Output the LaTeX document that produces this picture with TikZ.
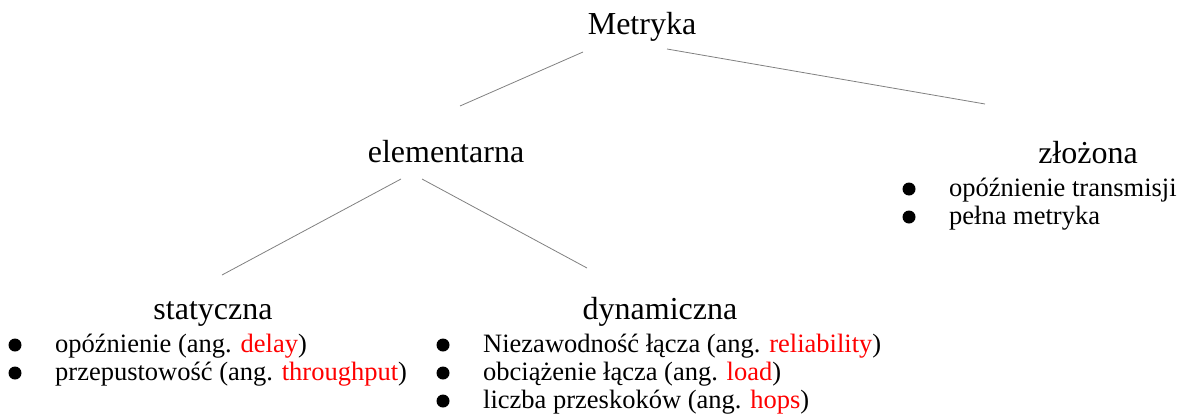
\documentclass[tikz,border=0pt]{standalone}
\usepackage{fontspec}
\setmainfont{Liberation Serif}
\usetikzlibrary{calc}

\begin{document}
\begin{tikzpicture}[x=1pt,y=-1pt,
  head/.style={font=\fontsize{32}{38}\selectfont, inner sep=0, anchor=base},
  item/.style={font=\fontsize{26.5}{32}\selectfont, inner sep=0, anchor=base west},
  dot/.style={circle, fill=black, inner sep=0, minimum size=13pt},
  link/.style={draw=gray, line width=0.8pt}]
\useasboundingbox (0,0) rectangle (1181,418);

% levels
\node[head] (met) at (642,34) {Metryka};
\node[head] (ele) at (446,162) {elementarna};
\node[head] (zlo) at (1088,163) {złożona};
\node[head] (sta) at (213,319) {statyczna};
\node[head] (dyn) at (660,319) {dynamiczna};

% lists
\node[item] (zl1) at (949,196) {opóźnienie transmisji};
\node[item] (zl2) at (949,224) {pełna metryka};
\node[item] (st1) at (55,352) {opóźnienie (ang. \textcolor{red}{delay})};
\node[item] (st2) at (55,380) {przepustowość (ang. \textcolor{red}{throughput})};
\node[item] (dy1) at (483,352) {Niezawodność łącza (ang. \textcolor{red}{reliability})};
\node[item] (dy2) at (483,380) {obciążenie łącza (ang. \textcolor{red}{load})};
\node[item] (dy3) at (483,408) {liczba przeskoków (ang. \textcolor{red}{hops})};

\foreach \i in {zl1,zl2,st1,st2,dy1,dy2,dy3}
  \node[dot] (b-\i) at ($(\i.base west)+(-40,-7)$) {};

\draw[link] ($(met.base)+(-59,18)$) -- ($(ele.base)+(14,-56)$);
\draw[link] ($(met.base)+(25,15)$) -- ($(zlo.base)+(-103,-59)$);
\draw[link] ($(ele.base)+(-45,17)$) -- ($(sta.base)+(9,-44)$);
\draw[link] ($(ele.base)+(-24,17)$) -- ($(dyn.base)+(-73,-51)$);

\end{tikzpicture}
\end{document}
